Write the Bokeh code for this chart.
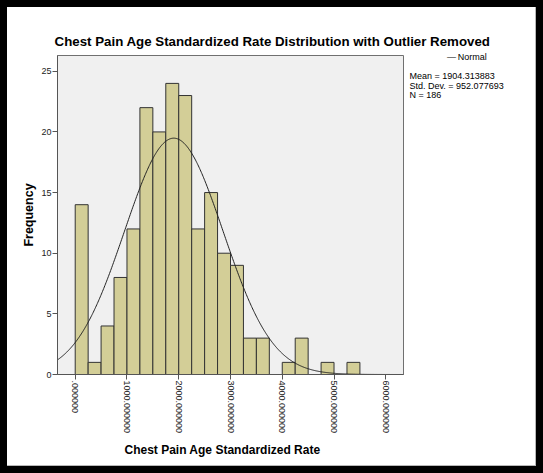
import numpy as np
from bokeh.plotting import figure
from bokeh.models import FixedTicker, Range1d, LinearAxis
from bokeh.embed import file_html
from bokeh.resources import INLINE

# ---- data ----
bin_left = [0, 250, 500, 750, 1000, 1250, 1500, 1750, 2000, 2250, 2500,
            2750, 3000, 3250, 3500, 3750, 4000, 4250, 4500, 4750, 5000, 5250]
bin_width = 250
counts = [14, 1, 4, 8, 12, 22, 20, 24, 23, 12, 15,
          10, 9, 3, 3, 0, 1, 3, 0, 1, 0, 1]
mean = 1904.313883
std_dev = 952.077693
n_obs = 186
x_ticks = [0, 1000, 2000, 3000, 4000, 5000, 6000]
x_tick_labels = [".000000", "1000.000000", "2000.000000", "3000.000000",
                 "4000.000000", "5000.000000", "6000.000000"]
y_ticks = [0, 5, 10, 15, 20, 25]
title_text = "Chest Pain Age Standardized Rate Distribution with Outlier Removed"
x_label = "Chest Pain Age Standardized Rate"
y_label = "Frequency"
legend_label = "Normal"
stats_lines = ["Mean = 1904.313883", "Std. Dev. = 952.077693", "N = 186"]

FONT = "Liberation Sans"
W, H = 543, 473
FL, FR, FT, FB = 57, 403, 55, 374      # frame edges in page pixels
X0, X1 = -342, 6342
Y0, Y1 = 0, 26.3

p = figure(width=W, height=H, output_backend="svg", toolbar_location=None,
           x_range=Range1d(X0, X1), y_range=Range1d(Y0, Y1))
p.min_border_left = FL
p.min_border_right = W - FR
p.min_border_top = FT
p.min_border_bottom = H - FB
p.background_fill_color = "#F0F0F0"
p.border_fill_color = None
p.outline_line_color = "#707070"
p.outline_line_width = 1
p.xgrid.visible = False
p.ygrid.visible = False
p.styles = {"background-color": "white",
            "box-shadow": "inset 0 0 0 7px black, inset -8px -8px 0 0 #b8b8b8"}

# bars (only non-empty bins)
lefts = [l for l, c in zip(bin_left, counts) if c > 0]
rights = [l + bin_width for l, c in zip(bin_left, counts) if c > 0]
tops = [c for c in counts if c > 0]
p.quad(left=lefts, right=rights, bottom=0, top=tops,
       fill_color="#D3CE97", line_color="#333333", line_width=1)

# normal curve from the stated mean / std dev / N
xs = np.linspace(X0, X1, 600)
ys = n_obs * bin_width / (std_dev * np.sqrt(2 * np.pi)) * np.exp(-0.5 * ((xs - mean) / std_dev) ** 2)
p.line(xs, ys, line_color="#222222", line_width=1)

# main axes
for ax in (p.xaxis[0], p.yaxis[0]):
    ax.axis_line_color = "#555555"
    ax.major_tick_line_color = "#555555"
    ax.minor_tick_line_color = None
    ax.major_tick_in = 0
    ax.major_tick_out = 5
    ax.major_label_text_font = FONT
    ax.major_label_text_font_size = "9px"
    ax.major_label_text_color = "#222222"
    ax.major_label_standoff = 1
p.xaxis.ticker = FixedTicker(ticks=x_ticks)
p.xaxis.major_label_overrides = {t: s for t, s in zip(x_ticks, x_tick_labels)}
p.xaxis.major_label_orientation = -np.pi / 2
p.yaxis.ticker = FixedTicker(ticks=y_ticks)
p.yaxis.axis_label = y_label
p.yaxis.axis_label_text_font = FONT
p.yaxis.axis_label_text_font_size = "12.5px"
p.yaxis.axis_label_text_font_style = "bold"
p.yaxis.axis_label_text_color = "black"
p.yaxis.axis_label_standoff = 2

px_x = (FR - FL) / (X1 - X0)
px_y = (FB - FT) / (Y1 - Y0)

def dx(page_x):
    return round(X0 + (page_x - FL) / px_x, 2)

def dy(page_y):
    return round((FB - page_y) / px_y, 3)

def text_axis(pos, texts, size, bold, standoff):
    return LinearAxis(ticker=FixedTicker(ticks=pos),
                      major_label_overrides={t: s for t, s in zip(pos, texts)},
                      axis_line_color=None, major_tick_line_color=None,
                      minor_tick_line_color=None, major_tick_in=0, major_tick_out=0,
                      major_label_standoff=standoff, major_label_text_font=FONT,
                      major_label_text_font_size=size,
                      major_label_text_font_style="bold" if bold else "normal",
                      major_label_text_color="black")

# chart title, centred where the reference has it
p.add_layout(text_axis([dx(272)], [title_text], "13.3px", True, 7), "above")
# x axis title, stacked below the tick labels
p.add_layout(text_axis([dx(222)], [x_label], "12px", True, 6), "below")
# legend entry and summary statistics in the right margin
info_pos = [dy(56.7), dy(76), dy(85.3), dy(94.3)]
info_text = ["\u00a0" * 15 + "\u2014\u2009" + legend_label] + stats_lines
p.add_layout(text_axis(info_pos, info_text, "9px", False, 6), "right")

open("out.html", "w").write(file_html(p, INLINE))
